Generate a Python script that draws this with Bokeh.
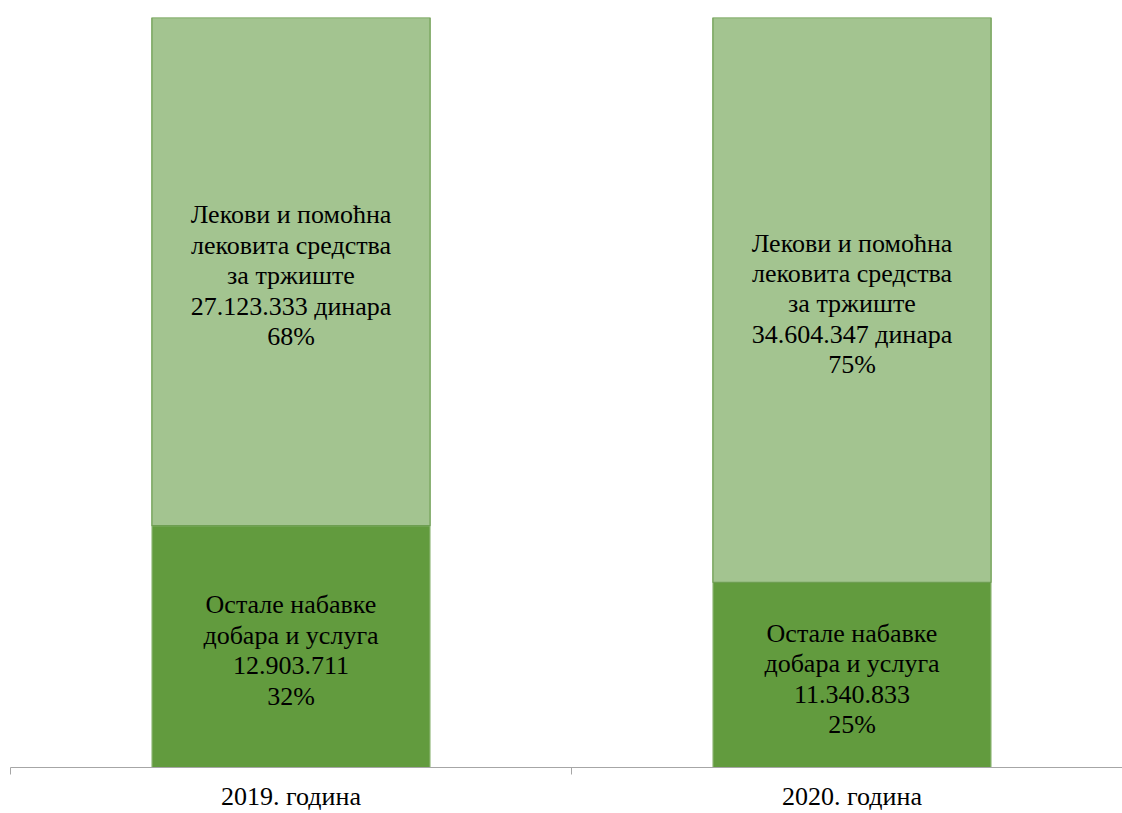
from bokeh.plotting import figure
from bokeh.models import ColumnDataSource, FixedTicker, Range1d
from bokeh.core.properties import value
from bokeh.embed import file_html
from bokeh.resources import INLINE

years = ["2019. година", "2020. година"]
drugs = [27123333, 34604347]
other = [12903711, 11340833]
drugs_name = "Лекови и помоћна\nлековита средства\nза тржиште"
other_name = "Остале набавке\nдобара и услуга"

def fmt(v):
    return f"{v:,}".replace(",", ".")

xs = list(range(len(years)))
totals = [d + o for d, o in zip(drugs, other)]
other_share = [o / t for o, t in zip(other, totals)]
drugs_share = [d / t for d, t in zip(drugs, totals)]

src = ColumnDataSource(dict(
    x=xs,
    other_top=other_share,
    total_top=[1.0 for _ in xs],
    other_mid=[s / 2 for s in other_share],
    drugs_mid=[s + d / 2 for s, d in zip(other_share, drugs_share)],
    other_lbl=[f"{other_name}\n{fmt(o)}\n{round(s*100)}%" for o, s in zip(other, other_share)],
    drugs_lbl=[f"{drugs_name}\n{fmt(d)} динара\n{round(s*100)}%" for d, s in zip(drugs, drugs_share)],
))

W, H = 1122, 813
left = 10
frame_w = W - left
unit = 561.0
p = figure(width=W, height=H, output_backend="svg", toolbar_location=None,
           x_range=Range1d(-0.5, -0.5 + frame_w / unit), y_range=Range1d(0, 1),
           y_axis_location=None, min_border_left=left, min_border_right=0,
           min_border_top=17, min_border_bottom=0)
p.outline_line_color = None
p.xgrid.visible = False
p.ygrid.visible = False
p.background_fill_color = "white"

p.vbar(x="x", bottom=0, top="other_top", width=0.496, source=src,
       fill_color="#629B3E", line_color="#A3C490", line_width=1)
p.vbar(x="x", bottom="other_top", top="total_top", width=0.496, source=src,
       fill_color="#A3C490", line_color="#6E9E52", line_width=1.3)

serif = value("Liberation Serif")
p.text(x="x", y="drugs_mid", text="drugs_lbl", source=src,
       text_font=serif, text_font_size="26px", y_offset=4,
       text_align="center", text_baseline="middle", text_line_height=1.05,
       text_color="black")
p.text(x="x", y="other_mid", text="other_lbl", source=src,
       text_font=serif, text_font_size="26px", y_offset=4,
       text_align="center", text_baseline="middle", text_line_height=1.05,
       text_color="black")

ax = p.xaxis[0]
ax.ticker = FixedTicker(ticks=xs, minor_ticks=[i - 0.5 for i in range(len(years) + 1)])
ax.major_label_overrides = {i: y for i, y in enumerate(years)}
ax.major_tick_line_color = None
ax.minor_tick_out = 7
ax.minor_tick_in = 0
ax.minor_tick_line_color = "#A6A6A6"
ax.axis_line_color = "#A6A6A6"
ax.major_label_text_font = "Liberation Serif"
ax.major_label_text_font_size = "26px"
ax.major_label_text_color = "black"
ax.major_label_standoff = 7

open("out.html", "w").write(file_html(p, INLINE))
